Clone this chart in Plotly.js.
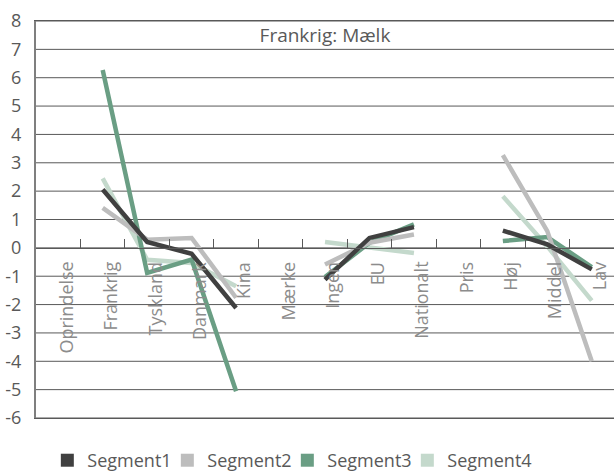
<!DOCTYPE html>
<html>
<head>
<meta charset="utf-8">
<script src="https://cdn.plot.ly/plotly-3.0.1.min.js"></script>
<style>html,body{margin:0;padding:0;background:#fff;}#chart{width:614px;height:476px;}</style>
</head>
<body>
<div id="chart"></div>
<script>
const categories = ["Oprindelse","Frankrig","Tyskland","Danmark","Kina","Mærke","Ingen","EU","Nationalt","Pris","Høj","Middel","Lav"];
const seriesNames = ["Segment1","Segment2","Segment3","Segment4"];
const segment1 = [null, 2.06, 0.21, -0.21, -2.12, null, -1.12, 0.35, 0.73, null, 0.61, 0.12, -0.76];
const segment2 = [null, 1.41, 0.29, 0.35, -1.76, null, -0.59, 0.18, 0.47, null, 3.27, 0.59, -4.0];
const segment3 = [null, 6.27, -0.88, -0.41, -5.06, null, -1.03, 0.18, 0.83, null, 0.24, 0.38, -0.68];
const segment4 = [null, 2.45, -0.42, -0.53, -1.35, null, 0.21, 0.02, -0.18, null, 1.82, 0.05, -1.86];
const yTicks = [-6,-5,-4,-3,-2,-1,0,1,2,3,4,5,6,7,8];
const chartTitle = "Frankrig: Mælk";

const colors = ["#404040", "#bdbdbd", "#6a9e84", "#c4d9cc"];
const allSeries = [segment1, segment2, segment3, segment4];
const FONT = "Open Sans, sans-serif";
const GRID = "#595959";

const traces = [];
// horizontal gridlines: one segment per y tick, on a hidden 0..1 x axis (main subplot, drawn first = underneath)
const gx = [], gy = [];
yTicks.forEach(v => { gx.push(0, 1, null); gy.push(v, v, null); });
traces.push({
  type: "scatter", mode: "lines", x: gx, y: gy, xaxis: "x", yaxis: "y",
  line: {color: GRID, width: 1}, showlegend: false, hoverinfo: "skip"
});
// data lines on the category axis (overlay, drawn above the grid)
const dataTraces = allSeries.map((vals, i) => ({
  type: "scatter", mode: "lines", x: categories, y: vals, xaxis: "x2", yaxis: "y",
  line: {color: colors[i], width: 4.5}, connectgaps: false,
  showlegend: false, hoverinfo: "skip"
}));
dataTraces.reverse().forEach(t => traces.push(t));
// legend entries as square markers
seriesNames.forEach((n, i) => {
  traces.push({
    type: "scatter", mode: "markers", x: [categories[0]], y: [null], name: n,
    xaxis: "x2", yaxis: "y",
    marker: {symbol: "square", size: 13, color: colors[i]}, showlegend: true
  });
});

const annotations = categories.map(c => ({
  x: c, y: 0, xref: "x2", yref: "y", text: c, showarrow: false,
  textangle: -90, xanchor: "center", yanchor: "top", yshift: -12, xshift: 7.5,
  font: {family: FONT, size: 18, color: "#8c8c8c"}
}));

const layout = {
  width: 614, height: 476,
  margin: {l: 36, r: 0, t: 21, b: 58, autoexpand: false},
  paper_bgcolor: "#ffffff", plot_bgcolor: "#ffffff",
  font: {family: FONT, color: "#595959"},
  title: {text: chartTitle, font: {family: FONT, size: 19, color: "#595959"},
          xref: "paper", x: 0.5, xanchor: "center", yref: "paper", y: 0.964, yanchor: "middle"},
  xaxis: {
    type: "linear", range: [0, 1],
    showline: true, mirror: true, linecolor: GRID, linewidth: 1,
    ticks: "", showticklabels: false,
    showgrid: false, zeroline: false, fixedrange: true
  },
  xaxis2: {
    type: "category", categoryarray: categories, range: [-0.5, 12.5],
    overlaying: "x", anchor: "free", position: 6/14, side: "bottom",
    showline: true, linecolor: GRID, linewidth: 1,
    ticks: "inside", tickson: "boundaries", ticklen: 9, tickcolor: GRID, tickwidth: 1,
    showticklabels: false, showgrid: false, zeroline: false, fixedrange: true
  },
  yaxis: {
    range: [-6, 8], tickvals: yTicks, ticktext: yTicks.map(String),
    showgrid: false,
    zeroline: false, showline: true, linecolor: "#7f7f7f", linewidth: 2,
    ticks: "", ticklabelstandoff: 9,
    tickfont: {family: FONT, size: 18, color: "#595959"}, fixedrange: true
  },
  annotations: annotations,
  showlegend: true,
  legend: {orientation: "h", x: 0.0196, xanchor: "left", y: -0.0605, yanchor: "top",
           font: {family: FONT, size: 18, color: "#595959"},
           entrywidth: 75, entrywidthmode: "pixels", traceorder: "normal",
           bgcolor: "rgba(0,0,0,0)", itemclick: false, itemdoubleclick: false}
};

Plotly.newPlot("chart", traces, layout, {displayModeBar: false, staticPlot: true}).then(gd => {
  // let the last legend label run past the legend's clip box
  gd.querySelectorAll(".legend .scrollbox").forEach(el => el.removeAttribute("clip-path"));
});
</script>
</body>
</html>
